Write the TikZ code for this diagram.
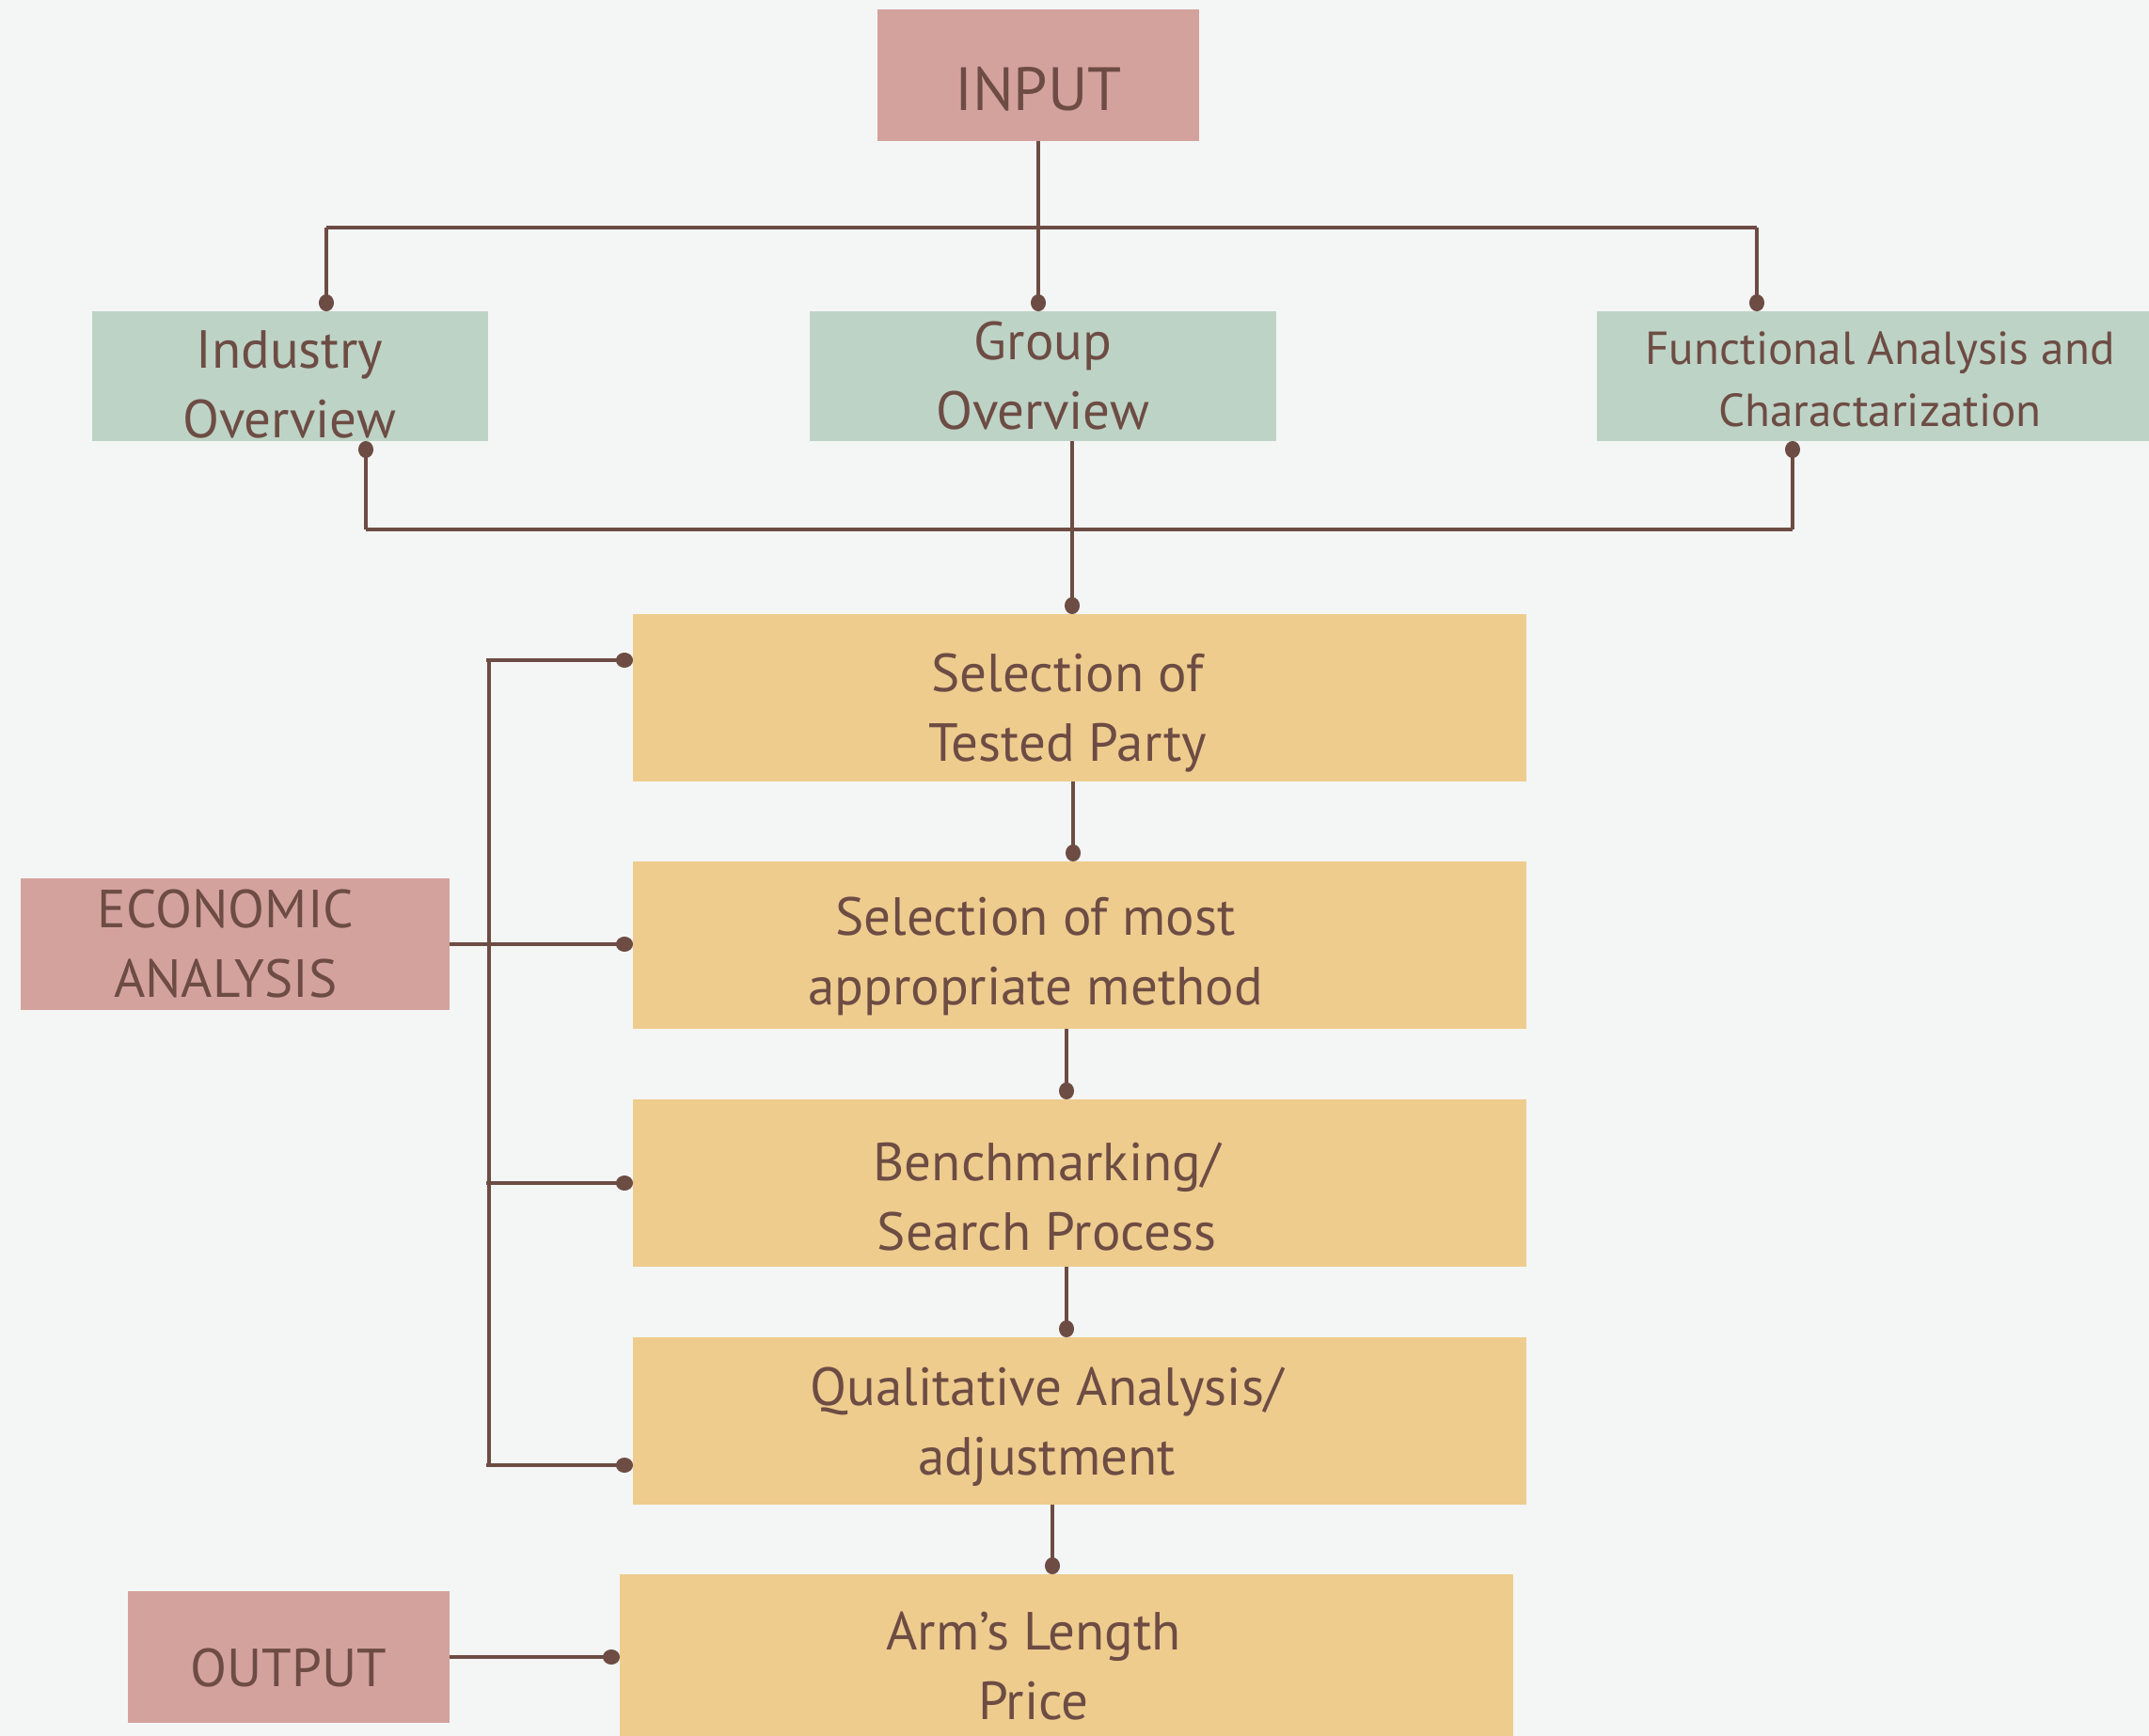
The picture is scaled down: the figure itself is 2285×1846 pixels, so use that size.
\documentclass[tikz,border=0pt]{standalone}
\usepackage{fontspec}
\setmainfont{PT Sans}
\usetikzlibrary{positioning,arrows.meta,calc}

\begin{document}
\begin{tikzpicture}[x=0.5pt,y=-0.5pt,
  box/.style={rectangle,inner sep=0pt,outer sep=0pt},
  pinkbox/.style={box,fill=pinkColor,minimum width=171pt,minimum height=70pt},
  greenbox/.style={box,fill=greenColor,minimum height=69pt},
  stepbox/.style={box,fill=stepColor,minimum width=475pt,minimum height=89pt},
  boxtext/.style={inner sep=0pt,align=center,text=textColor,
    font=\fontsize{28.5}{37}\selectfont},
  line/.style={draw=lineColor,line width=1.6pt},
  dotline/.style={line,-{Circle[length=9pt,width=8pt]}}]
\definecolor{bgColor}{RGB}{244,246,245}
\definecolor{pinkColor}{RGB}{212,162,157}
\definecolor{greenColor}{RGB}{189,211,198}
\definecolor{stepColor}{RGB}{238,204,142}
\definecolor{lineColor}{RGB}{109,76,68}
\definecolor{textColor}{RGB}{109,76,68}
\path[use as bounding box,fill=bgColor] (0,0) rectangle (2285,1846);

% input and overviews
\node[pinkbox] (input) at (1104,80) {};
\node[greenbox,minimum width=210.5pt] (ind) at (308,400) {};
\node[greenbox,minimum width=248pt] (grp) at (1109,400) {};
\node[greenbox,minimum width=301pt] (fun) at (1999,400) {};
\node[boxtext,font=\fontsize{32.5}{40}\selectfont] (inputt) at ($(input)+(0,15)$) {INPUT};
\node[boxtext] (indt) at ($(ind)+(0,9)$) {Industry\\Overview};
\node[boxtext] (grpt) at (grp) {Group\\Overview};
\node[boxtext,font=\fontsize{24.6}{33}\selectfont] (funt) at ($(fun)+(0,3)$)
  {Functional Analysis and\\Charactarization};

% economic analysis steps
\node[stepbox] (sel1) at (1148,742) {};
\node[stepbox] (sel2) at (1148,1005) {};
\node[stepbox] (bench) at (1148,1258) {};
\node[stepbox] (qual) at (1148,1511) {};
\node[stepbox] (arm) at (1134,1763) {};
\node[pinkbox,minimum width=228pt] (econ) at (250,1004) {};
\node[pinkbox] (out) at (307,1762) {};
\node[boxtext] (sel1t) at ($(sel1)+(-13,16)$) {Selection of\\Tested Party};
\node[boxtext] (sel2t) at ($(sel2)+(-47,12)$) {Selection of most\\appropriate method};
\node[boxtext] (bencht) at ($(bench)+(-35,15)$) {Benchmarking/\\Search Process};
\node[boxtext] (qualt) at ($(qual)+(-35,6)$) {Qualitative Analysis/\\adjustment};
\node[boxtext] (armt) at ($(arm)+(-35,9)$) {Arm’s Length\\Price};
\node[boxtext] (econt) at ($(econ)+(-10,0)$) {ECONOMIC\\ANALYSIS};
\node[boxtext] (outt) at ($(out)+(0,12)$) {OUTPUT};

% top branching
\coordinate (inL) at (347,242);
\coordinate (inR) at (1868,242);
\draw[line] (inL) -- (inR);
\draw[dotline] (input.south) -- (input.south |- grp.north);
\draw[dotline] (inL) -- (inL |- ind.north);
\draw[dotline] (inR) -- (inR |- fun.north);

% joining into the steps
\coordinate (outL) at (389,563);
\coordinate (outR) at (1906,563);
\coordinate (outM) at (1140,563);
\draw[line] (outL) -- (outR);
\draw[dotline] (outL) -- (outL |- ind.south);
\draw[dotline] (outR) -- (outR |- fun.south);
\draw[dotline] (outM |- grp.south) -- (outM |- sel1.north);

\draw[dotline] ($(sel1.south)+(-7,0)$) coordinate (c1) -- (c1 |- sel2.north);
\draw[dotline] ($(sel2.south)+(-14,0)$) coordinate (c2) -- (c2 |- bench.north);
\draw[dotline] ($(bench.south)+(-14,0)$) coordinate (c3) -- (c3 |- qual.north);
\draw[dotline] ($(qual.south)+(-29,0)$) coordinate (c4) -- (c4 |- arm.north);

% bracket on the left
\coordinate (brT) at (520,702);
\coordinate (brB) at (520,1558);
\draw[line] (brT) -- (brB);
\draw[dotline] ($(brT)+(-3,0)$) -- (brT -| sel1.west);
\draw[dotline] (econ.east) -- (econ.east -| sel2.west);
\draw[dotline] ($(bench.west -| brT)+(-3,0)$) -- (bench.west);
\draw[dotline] ($(brB)+(-3,0)$) -- (brB -| qual.west);
\draw[dotline] (out.east) -- (out.east -| arm.west);
\end{tikzpicture}
\end{document}
